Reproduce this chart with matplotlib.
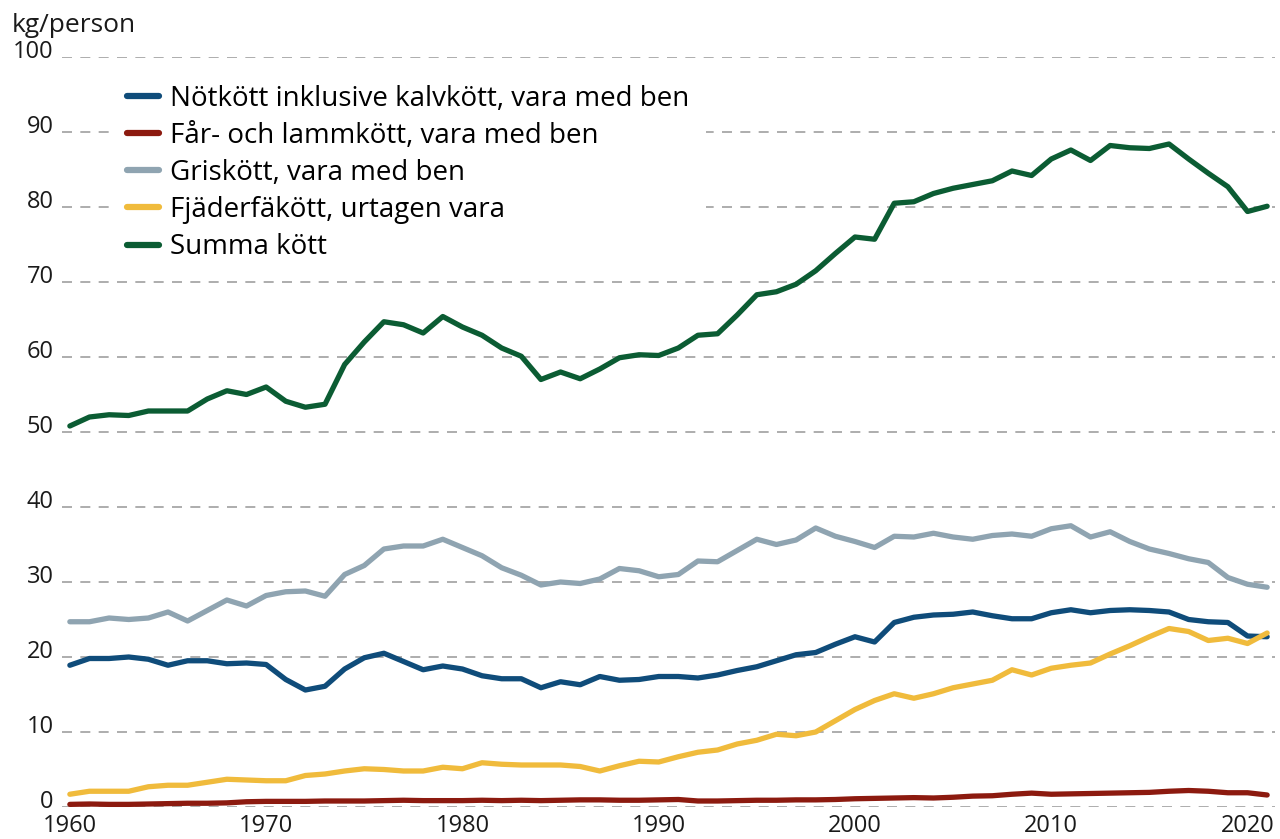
import matplotlib.pyplot as plt
from matplotlib.transforms import ScaledTranslation

years = list(range(1960, 2022))

notkott = [18.9, 19.8, 19.8, 20.0, 19.7, 18.9, 19.5, 19.5, 19.1, 19.2,
           19.0, 17.0, 15.6, 16.1, 18.4, 19.9, 20.5, 19.4, 18.3, 18.8,
           18.4, 17.5, 17.1, 17.1, 15.9, 16.7, 16.3, 17.4, 16.9, 17.0,
           17.4, 17.4, 17.2, 17.6, 18.2, 18.7, 19.5, 20.3, 20.6, 21.7,
           22.7, 22.0, 24.6, 25.3, 25.6, 25.7, 26.0, 25.5, 25.1, 25.1,
           25.9, 26.3, 25.9, 26.2, 26.3, 26.2, 26.0, 25.0, 24.7, 24.6,
           22.8, 22.7]

far = [0.35, 0.4, 0.35, 0.35, 0.4, 0.45, 0.5, 0.5, 0.55, 0.7,
       0.75, 0.75, 0.75, 0.8, 0.8, 0.8, 0.85, 0.9, 0.85, 0.85,
       0.85, 0.9, 0.85, 0.9, 0.85, 0.9, 0.95, 0.95, 0.9, 0.9,
       0.95, 1.0, 0.8, 0.8, 0.85, 0.9, 0.9, 0.95, 0.95, 1.0,
       1.1, 1.15, 1.2, 1.25, 1.2, 1.3, 1.45, 1.5, 1.7, 1.85,
       1.7, 1.75, 1.8, 1.85, 1.9, 1.95, 2.1, 2.2, 2.1, 1.9,
       1.9, 1.6]

gris = [24.7, 24.7, 25.2, 25.0, 25.2, 26.0, 24.8, 26.2, 27.6, 26.8,
        28.2, 28.7, 28.8, 28.1, 31.0, 32.2, 34.4, 34.8, 34.8, 35.7,
        34.6, 33.5, 31.9, 30.9, 29.6, 30.0, 29.8, 30.4, 31.8, 31.5,
        30.7, 31.0, 32.8, 32.7, 34.2, 35.7, 35.0, 35.6, 37.2, 36.1,
        35.4, 34.6, 36.1, 36.0, 36.5, 36.0, 35.7, 36.2, 36.4, 36.1,
        37.1, 37.5, 36.0, 36.7, 35.4, 34.4, 33.8, 33.1, 32.6, 30.6,
        29.7, 29.3]

fjaderfa = [1.7, 2.1, 2.1, 2.1, 2.7, 2.9, 2.9, 3.3, 3.7, 3.6,
            3.5, 3.5, 4.2, 4.4, 4.8, 5.1, 5.0, 4.8, 4.8, 5.3,
            5.1, 5.9, 5.7, 5.6, 5.6, 5.6, 5.4, 4.8, 5.5, 6.1,
            6.0, 6.7, 7.3, 7.6, 8.4, 8.9, 9.7, 9.5, 10.0, 11.5,
            13.0, 14.2, 15.1, 14.5, 15.1, 15.9, 16.4, 16.9, 18.3, 17.6,
            18.5, 18.9, 19.2, 20.4, 21.5, 22.7, 23.8, 23.4, 22.2, 22.5,
            21.8, 23.2]

summa = [50.8, 52.0, 52.3, 52.2, 52.8, 52.8, 52.8, 54.4, 55.5, 55.0,
         56.0, 54.1, 53.3, 53.7, 59.0, 62.0, 64.7, 64.3, 63.2, 65.4,
         64.0, 62.9, 61.2, 60.1, 57.0, 58.0, 57.1, 58.4, 59.9, 60.3,
         60.2, 61.2, 62.9, 63.1, 65.6, 68.3, 68.7, 69.7, 71.5, 73.8,
         76.0, 75.7, 80.5, 80.7, 81.8, 82.5, 83.0, 83.5, 84.8, 84.2,
         86.4, 87.6, 86.2, 88.2, 87.9, 87.8, 88.4, 86.4, 84.5, 82.7,
         79.4, 80.1]

labels = ['Nötkött inklusive kalvkött, vara med ben',
          'Får- och lammkött, vara med ben',
          'Griskött, vara med ben',
          'Fjäderfäkött, urtagen vara',
          'Summa kött']
colors = ['#0f4c7a', '#8c1a0f', '#8fa4b1', '#f0bb3c', '#0b5c33']

plt.rcParams['font.family'] = ['Open Sans', 'DejaVu Sans']

fig = plt.figure(figsize=(12.8, 8.39), dpi=100)
ax = fig.add_axes([62 / 1280, 32 / 839, 1213 / 1280, 750 / 839])

for vals, lab, col in zip([notkott, far, gris, fjaderfa, summa], labels, colors):
    ax.plot(years, vals, color=col, lw=3.8, label=lab,
            solid_joinstyle='round', solid_capstyle='round', clip_on=False)

ax.set_xlim(1959.6, 2021.4)
ax.set_ylim(0, 100)
ax.set_yticks(range(0, 101, 10))
ax.set_xticks(range(1960, 2021, 10))
ax.yaxis.grid(True, linestyle=(0, (6, 5)), color='#a0a0a0', lw=1.2)
ax.set_axisbelow(True)
for s in ax.spines.values():
    s.set_visible(False)
ax.tick_params(length=0, labelsize=17, colors='#1a1a1a')
ax.tick_params(axis='y', pad=6)
ax.tick_params(axis='x', pad=5.4)
# y labels stand on their grid lines
drop = ScaledTranslation(0, -1 / 100, fig.dpi_scale_trans)
for t in ax.get_yticklabels():
    t.set_verticalalignment('baseline')
    t.set_transform(t.get_transform() + drop)

fig.text(12 / 1280, 1 - 25 / 839, 'kg/person', fontsize=19, color='#1a1a1a',
         va='center', ha='left')

leg = ax.legend(loc='upper left', bbox_to_anchor=(110 / 1280, 1 - 68 / 839),
                bbox_transform=fig.transFigure, fontsize=20, frameon=True,
                facecolor='white', edgecolor='none', framealpha=1,
                handlelength=1.15, handletextpad=0.4, labelspacing=0.33,
                borderpad=0.6, borderaxespad=0, fancybox=False)
for h in leg.get_lines():
    h.set_linewidth(4.5)

fig.savefig('out.png', dpi=100)
